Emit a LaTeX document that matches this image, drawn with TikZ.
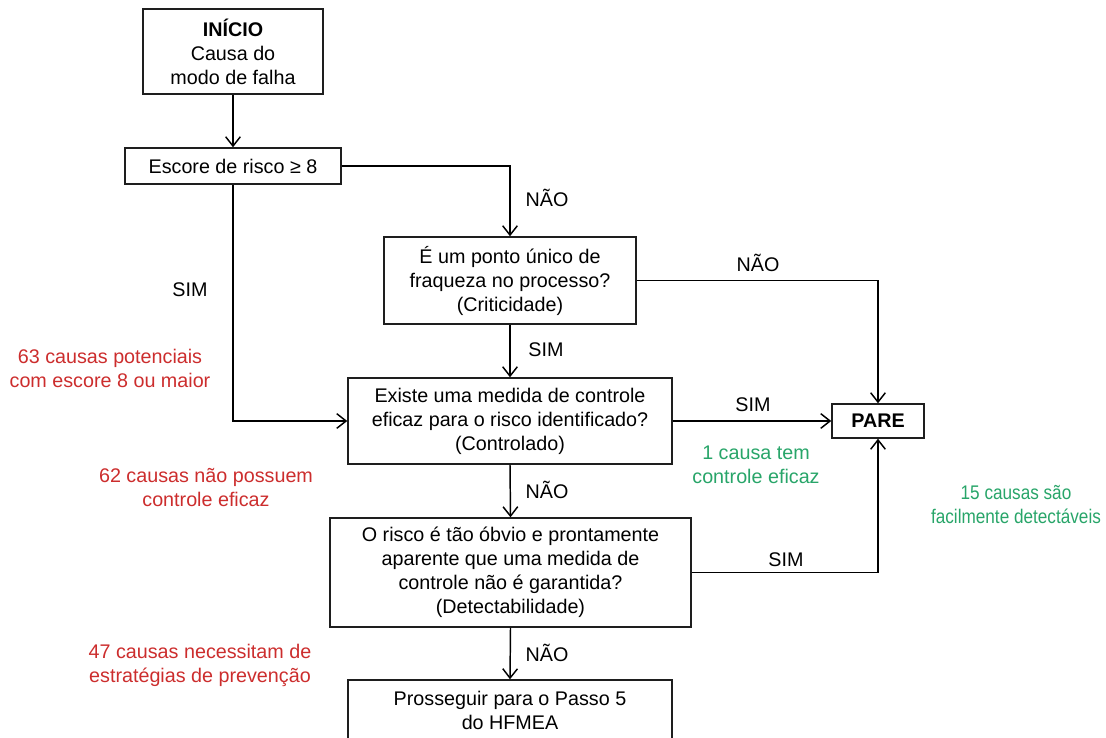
\documentclass[tikz,border=0pt]{standalone}
\usepackage{fontspec}
\setmainfont{Liberation Sans}
\newfontfamily\narrowsans[FakeStretch=0.87]{Liberation Sans}
\usetikzlibrary{arrows.meta}
\definecolor{redtxt}{RGB}{204,45,45}
\definecolor{greentxt}{RGB}{40,165,105}
\definecolor{linegray}{RGB}{30,30,30}
\begin{document}
\begin{tikzpicture}[x=0.75pt,y=-0.75pt,
  every node/.style={font=\fontsize{14.8}{18}\selectfont},
  box/.style={draw=linegray, line width=1.1pt, align=center, inner sep=0pt},
  lbl/.style={align=center, inner sep=0pt},
  redlbl/.style={lbl, text=redtxt},
  greenlbl/.style={lbl, text=greentxt},
  conn/.style={draw=black, line width=1.1pt},
  arr/.style={conn, -{Straight Barb[length=7pt,width=11pt,line width=1.1pt]}}]
\useasboundingbox (0,0) rectangle (1106,738);
\clip (0,0) rectangle (1106,738);

\node[box, minimum width={180*0.75pt}, minimum height={85*0.75pt}] (start) at (233,51.5)
  {\textbf{INÍCIO}\\Causa do\\modo de falha};
\node[box, minimum width={216*0.75pt}, minimum height={36*0.75pt}] (escore) at (233,166)
  {Escore de risco ≥ 8};
\node[box, minimum width={252*0.75pt}, minimum height={87*0.75pt}] (ponto) at (510,280.5)
  {É um ponto único de\\fraqueza no processo?\\(Criticidade)};
\node[box, minimum width={324*0.75pt}, minimum height={86*0.75pt}] (existe) at (510,421)
  {Existe uma medida de controle\\eficaz para o risco identificado?\\(Controlado)};
\node[box, minimum width={92*0.75pt}, minimum height={34*0.75pt}] (pare) at (878,421)
  {\textbf{PARE}};
\node[box, minimum width={361*0.75pt}, minimum height={109*0.75pt}] (obvio) at (510.5,572.5)
  {O risco é tão óbvio e prontamente\\aparente que uma medida de\\controle não é garantida?\\(Detectabilidade)};
\node[box, minimum width={324*0.75pt}, minimum height={60*0.75pt}] (pross) at (510,710)
  {Prosseguir para o Passo 5\\do HFMEA};

\draw[arr] (start.south) -- (start.south |- escore.north);
\draw[arr] (escore.east) -| (ponto.north);
\draw[arr] (escore.south) |- (existe.west);
\draw[arr] (ponto.south) -- (existe.north);
\draw[arr] (ponto.east) -| (pare.north);
\draw[arr] (existe.east) -- (pare.west);
\draw[arr] (existe.south) -- (obvio.north);
\draw[arr] (obvio.east) -| (pare.south);
\draw[arr] (obvio.south) -- (pross.north);

\node[lbl] (l1) at (547,198) {NÃO};
\node[lbl] (l2) at (758,263) {NÃO};
\node[lbl] (l3) at (190,290) {SIM};
\node[lbl] (l4) at (546,350) {SIM};
\node[lbl] (l5) at (753,405) {SIM};
\node[lbl] (l6) at (547,490) {NÃO};
\node[lbl] (l7) at (786,560) {SIM};
\node[lbl] (l8) at (547,653) {NÃO};

\node[redlbl] (r1) at (110,368) {63 causas potenciais\\com escore 8 ou maior};
\node[redlbl] (r2) at (206,488) {62 causas não possuem\\controle eficaz};
\node[redlbl] (r3) at (200,665) {47 causas necessitam de\\estratégias de prevenção};
\node[greenlbl] (g1) at (756,465) {1 causa tem\\controle eficaz};
\node[greenlbl, font=\narrowsans\fontsize{14.8}{18}\selectfont] (g2) at (1016,505) {15 causas são\\facilmente detectáveis};
\end{tikzpicture}
\end{document}
